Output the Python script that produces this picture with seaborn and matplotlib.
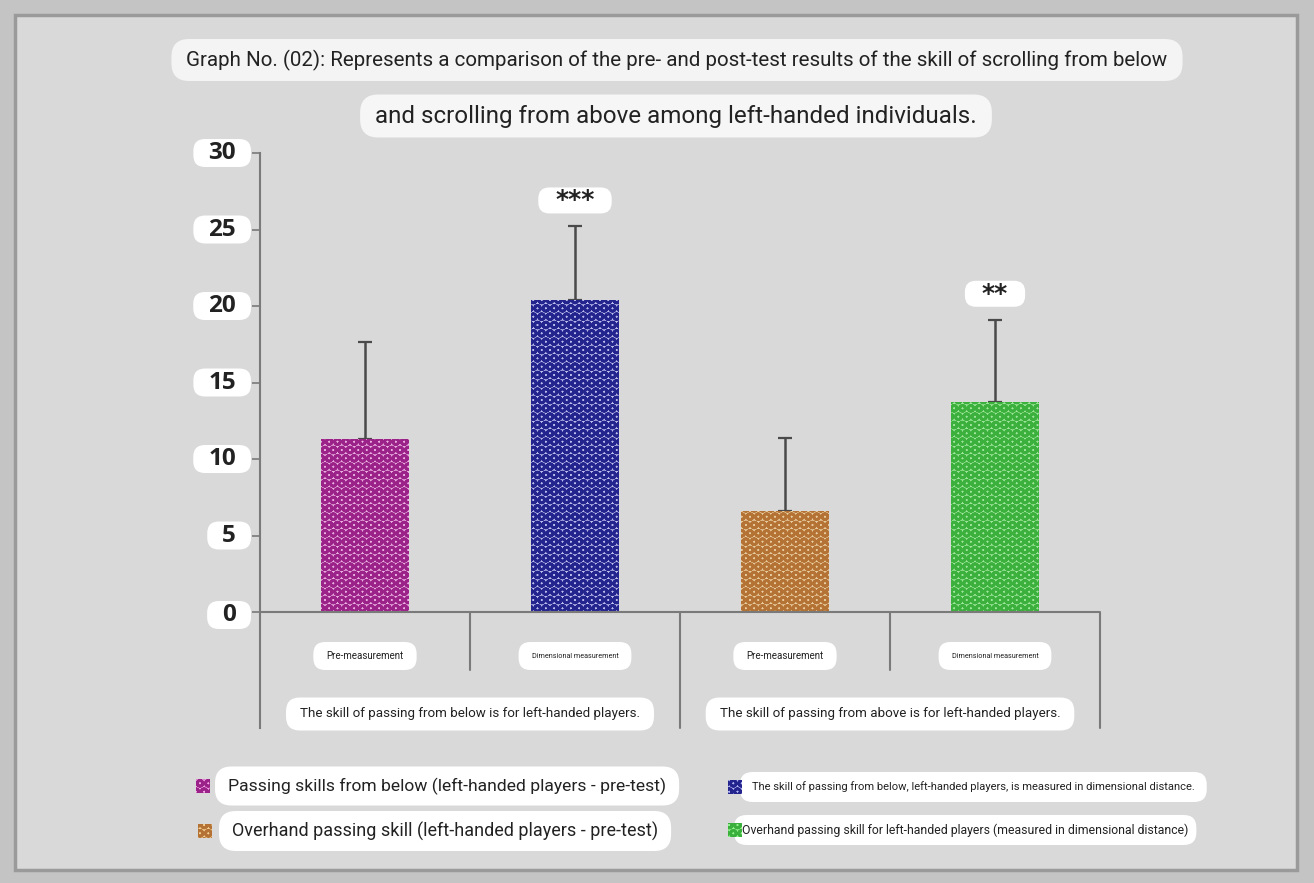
import matplotlib
matplotlib.use("Agg")
import matplotlib.pyplot as plt
import seaborn as sns
import pandas as pd
from matplotlib.patches import Rectangle, FancyBboxPatch
from matplotlib.transforms import IdentityTransform

# ---- data ----
bar_keys = ["below_pre", "below_post", "above_pre", "above_post"]
bar_labels = ["Pre-measurement", "Dimensional measurement", "Pre-measurement", "Dimensional measurement"]
means = [11.3, 20.4, 6.6, 13.7]
errors = [6.35, 4.8, 4.8, 5.4]
signif = ["", "***", "", "**"]
group_labels = ["The skill of passing from below is for left-handed players.",
                "The skill of passing from above is for left-handed players."]
legend_labels = ["Passing skills from below (left-handed players - pre-test)",
                 "The skill of passing from below, left-handed players, is measured in dimensional distance.",
                 "Overhand passing skill (left-handed players - pre-test)",
                 "Overhand passing skill for left-handed players (measured in dimensional distance)"]
title_lines = ["Graph No. (02): Represents a comparison of the pre- and post-test results of the skill of scrolling from below",
               "and scrolling from above among left-handed individuals."]
yticks = [0, 5, 10, 15, 20, 25, 30]

face_colors = ["#f4a6e6", "#b4b6f4", "#f4d094", "#94f290"]
dot_colors = ["#9a2288", "#24248e", "#b47234", "#3cb03c"]

sns.set_theme(style="white")
plt.rcParams['font.family'] = ['Roboto', 'DejaVu Sans']
plt.rcParams['hatch.linewidth'] = 2.0

W, H = 1314, 883
fig = plt.figure(figsize=(W / 100, H / 100), dpi=100)
fig.patch.set_facecolor("#c4c4c4")
fig.patches.append(Rectangle((15 / W, 1 - 870 / H), (1297 - 15) / W, (870 - 15) / H,
                             transform=fig.transFigure, facecolor="#d9d9d9",
                             edgecolor="#9a9a9a", linewidth=2.5, zorder=-5))

def fx(px):
    return px / W

def fy(py):
    return 1 - py / H

ymin = -7.58
ax = fig.add_axes([fx(260), fy(728), fx(1100) - fx(260), fy(153) - fy(728)])
ax.set_zorder(2)
ax.set_facecolor("none")

df = pd.DataFrame({"key": bar_keys, "value": means})
sns.barplot(data=df, x="key", y="value", hue="key", order=bar_keys, hue_order=bar_keys,
            palette=face_colors, width=0.42, legend=False, ax=ax, errorbar=None, zorder=2)
for patch, dc in zip(ax.patches, dot_colors):
    patch.set_hatch("OO")
    patch.set_edgecolor(dc)
    patch.set_linewidth(0)

xs = list(range(len(bar_keys)))
ax.errorbar(xs, means, yerr=[[0] * len(errors), errors], fmt="none", ecolor="#4a4a4a",
            elinewidth=1.8, capsize=5, capthick=1.6, zorder=1)

ax.set_xlim(-0.5, 3.5)
ax.set_ylim(ymin, 30)
ax.set_yticks(yticks)
ax.set_yticklabels([])
ax.set_xticks([])
ax.set_xlabel("")
ax.set_ylabel("")
for s in ["top", "right", "bottom"]:
    ax.spines[s].set_visible(False)
ax.spines["left"].set_color("#7a7a7a")
ax.spines["left"].set_linewidth(1.5)
ax.tick_params(axis="y", length=6, width=1.2, color="#7a7a7a", left=True)

ax.axhline(0, xmin=0, xmax=1, color="#7a7a7a", lw=1.5, zorder=3)
sep_depth = -3.79
for xv, d in [(0.5, sep_depth), (1.5, ymin), (2.5, sep_depth), (3.5, ymin)]:
    ax.plot([xv, xv], [0, d], color="#7a7a7a", lw=1.5, clip_on=False)

renderer = fig.canvas.get_renderer()


def data_to_px(x, y):
    dx, dy = ax.transData.transform((x, y))
    return dx, H - dy


def pill_text(px, py, s, fs, padx, h, ha="center", face="white", **kw):
    t = fig.text(fx(px), fy(py), s, ha=ha, va="center", fontsize=fs, color="#222222",
                 zorder=4, **kw)
    bb = t.get_window_extent(renderer)
    cy = H - py
    p = FancyBboxPatch((bb.x0 - padx, cy - h / 2), bb.width + 2 * padx, h,
                       boxstyle=f"round,pad=0,rounding_size={h * 0.42}",
                       transform=IdentityTransform(), facecolor=face, edgecolor="none", zorder=3)
    fig.patches.append(p)
    return t


# y tick labels in boxes
for tv in yticks:
    _, py = data_to_px(0, tv)
    pill_text(236, py + (3 if tv == 0 else 0), str(tv), 17.5, 15, 28, ha="right",
              fontweight="bold", family=["Open Sans", "DejaVu Sans"])

# category labels
for i, lab in enumerate(bar_labels):
    px, _ = data_to_px(i, 0)
    fs = 7.0 if lab.startswith("Pre") else 5.2
    pill_text(px, 656, lab, fs, 13, 28)

# group labels
for gi, g in enumerate(group_labels):
    px, _ = data_to_px(0.5 + 2 * gi, 0)
    pill_text(px, 714, g, 9.6, 14, 33)

# significance
for i, s in enumerate(signif):
    if s:
        px, py = data_to_px(i, means[i] + errors[i])
        pill_text(px, py - 26, s, 18, 17, 26, fontweight="bold", family=["DejaVu Sans"])

# title
pill_text(677, 60, title_lines[0], 14.8, 15, 42, face="#f4f4f4")
pill_text(676, 116, title_lines[1], 17.4, 15, 43, face="#f6f6f6")

# legend
leg_pos = [(203, 786, 228, 12.6, 13, 39), (735, 787, 752, 8.0, 12, 30),
           (205, 831, 232, 13.0, 13, 40), (735, 830, 742, 8.8, 8, 30)]
for ci, ((px, py, tx, fs, padx, h), lab) in enumerate(zip(leg_pos, legend_labels)):
    sq = Rectangle((fx(px - 7), fy(py + 7)), 14 / W, 14 / H, transform=fig.transFigure,
                   facecolor=face_colors[ci], edgecolor=dot_colors[ci], hatch="OO", linewidth=0, zorder=5)
    fig.patches.append(sq)
    pill_text(tx, py, lab, fs, padx, h, ha="left")

fig.savefig("out.png", dpi=100, facecolor=fig.get_facecolor())
